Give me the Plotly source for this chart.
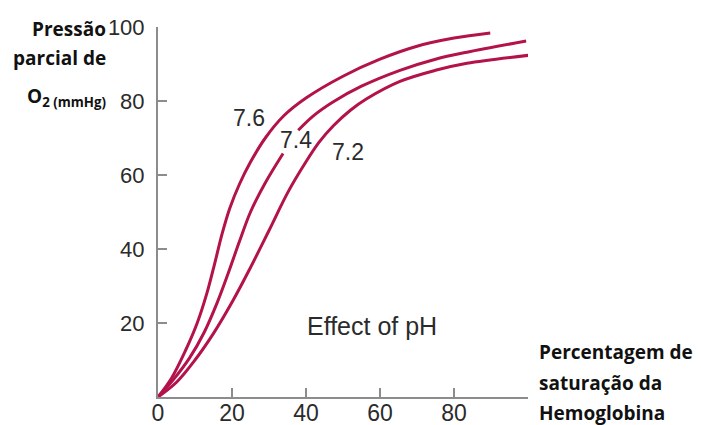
import plotly.graph_objects as go

# Curve data (x = Percentagem de saturação, y = Pressão parcial de O2)
x_76 = [0, 3.6, 7.4, 10.6, 13.2, 15.3, 17.3, 19.4, 22, 25, 29, 34, 40, 50, 60, 70, 80, 89.8]
y_76 = [0, 5, 12.5, 20, 28, 36, 44, 51, 57.5, 63.5, 70, 76, 80.8, 86.7, 91.3, 94.8, 97, 98.4]

x_74 = [0, 4, 8.5, 12.5, 16, 19, 22, 25, 28.9, 33.8, None,
        37.9, 42, 47.4, 55, 65.4, 75, 83.5, 99.5]
y_74 = [0, 4.5, 10.5, 17.5, 25.5, 33.5, 42, 50, 57.7, 65.8, None,
        72.1, 76, 79.8, 84, 88.3, 91.3, 93.2, 96.2]

x_72 = [0, 5, 10, 15, 20, 25, 30, 35.2, 39.7, 43.5, 47.4, 52, 56.4, 65.4, 75, 83.5, 100.6]
y_72 = [0, 4, 10, 17.2, 25.6, 35, 45, 55.5, 63.1, 68.8, 73.3, 77.5, 80.6, 85.3, 88.3, 90.2, 92.4]

curve_labels = ["7.6", "7.4", "7.2"]
label_x = [24.6, 37.4, 51.4]
label_y = [75.4, 69.5, 66.2]

x_ticks = [0, 20, 40, 60, 80]
x_ticktext = ["0", "20", "40", "60", "80"]
x_end_tick = [100]
y_ticks = [20, 40, 60, 80, 100]
y_ticktext = ["20", "40", "60", "80", "100"]

LINE = "#b3124a"
AXIS = "#8c8c8c"
TXT = "#2b2b2b"
FONT = "Liberation Sans, Arial, sans-serif"
BOLD = "Open Sans, Lato, sans-serif"

fig = go.Figure()
for xs, ys in [(x_76, y_76), (x_74, y_74), (x_72, y_72)]:
    fig.add_trace(go.Scatter(
        x=xs, y=ys, mode="lines",
        line=dict(color=LINE, width=3, shape="spline", smoothing=1.0),
        connectgaps=False, cliponaxis=False, showlegend=False, hoverinfo="skip"))

for t, lx, ly in zip(curve_labels, label_x, label_y):
    fig.add_annotation(x=lx, y=ly, text=t, showarrow=False,
                       font=dict(family=FONT, size=23, color=TXT),
                       xanchor="center", yanchor="middle")

fig.add_annotation(x=57.8, y=19.2, text="Effect of pH", showarrow=False,
                   font=dict(family=FONT, size=25, color=TXT),
                   xanchor="center", yanchor="middle")

# Axis titles
left_lines = [("<b>Pressão</b>", 0.9946), ("<b>parcial de</b>", 0.9162),
              ("<b>O<sub>2 (mmHg)</sub></b>", 0.8108)]
for t, yp in left_lines:
    fig.add_annotation(xref="paper", yref="paper", x=-0.1351, y=yp, text=t,
                       showarrow=False, xanchor="right", yanchor="middle",
                       font=dict(family=BOLD, size=19, color="#111111"))

right_lines = [("<b>Percentagem de</b>", 0.1203), ("<b>saturação da</b>", 0.0378),
               ("<b>Hemoglobina</b>", -0.0419)]
for t, yp in right_lines:
    fig.add_annotation(xref="paper", yref="paper", x=1.0243, y=yp, text=t,
                       showarrow=False, xanchor="left", yanchor="middle",
                       font=dict(family=BOLD, size=19, color="#111111"))

fig.update_xaxes(range=[0, 100], tickvals=x_ticks, ticktext=x_ticktext,
                 ticks="inside", ticklen=9, tickwidth=2, tickcolor=AXIS,
                 minor=dict(tickvals=x_end_tick, ticks="inside", ticklen=9,
                            tickwidth=2, tickcolor=AXIS, showgrid=False),
                 showline=True, linecolor=AXIS, linewidth=2,
                 showgrid=False, zeroline=False, automargin=False,
                 tickfont=dict(family=FONT, size=23, color=TXT),
                 ticklabelstandoff=-6)
fig.update_yaxes(range=[0, 100], tickvals=y_ticks, ticktext=y_ticktext,
                 ticks="inside", ticklen=9, tickwidth=2, tickcolor=AXIS,
                 showline=True, linecolor=AXIS, linewidth=2,
                 showgrid=False, zeroline=False, automargin=False,
                 tickfont=dict(family=FONT, size=22, color=TXT),
                 ticklabelstandoff=7)

# The page body has an 8px default margin, so the figure is drawn 8px in.
fig.update_layout(width=693, height=417,
                  margin=dict(l=150, r=173, t=19, b=28, pad=0, autoexpand=False),
                  plot_bgcolor="white", paper_bgcolor="white")

fig.write_html("out.html")
